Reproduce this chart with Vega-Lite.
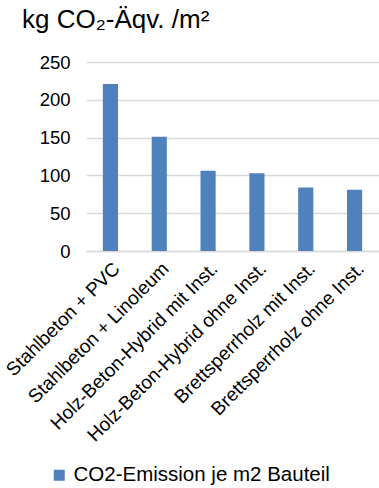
{
  "$schema": "https://vega.github.io/schema/vega-lite/v6.json",
  "width": 293,
  "height": 189,
  "autosize": {"type": "none"},
  "padding": {"left": 86, "top": 62, "right": 0, "bottom": 237},
  "background": "white",
  "config": {"font": "Liberation Sans", "view": {"stroke": null}},
  "title": {
    "text": "kg CO₂-Äqv. /m²",
    "anchor": "start",
    "frame": "group",
    "dx": -64,
    "offset": 20,
    "fontSize": 26,
    "fontWeight": "normal",
    "color": "#000000",
    "font": "Liberation Sans"
  },
  "data": {
    "values": [
      {"kategorie": "Stahlbeton + PVC", "wert": 221, "serie": "CO2-Emission je m2 Bauteil"},
      {"kategorie": "Stahlbeton + Linoleum", "wert": 151, "serie": "CO2-Emission je m2 Bauteil"},
      {"kategorie": "Holz-Beton-Hybrid mit Inst.", "wert": 106, "serie": "CO2-Emission je m2 Bauteil"},
      {"kategorie": "Holz-Beton-Hybrid ohne Inst.", "wert": 103, "serie": "CO2-Emission je m2 Bauteil"},
      {"kategorie": "Brettsperrholz mit Inst.", "wert": 84, "serie": "CO2-Emission je m2 Bauteil"},
      {"kategorie": "Brettsperrholz ohne Inst.", "wert": 81, "serie": "CO2-Emission je m2 Bauteil"}
    ]
  },
  "mark": {"type": "bar"},
  "encoding": {
    "x": {
      "field": "kategorie",
      "type": "nominal",
      "sort": null,
      "scale": {"paddingInner": 0.69, "paddingOuter": 0.345},
      "axis": {
        "title": null,
        "labelAngle": -45,
        "labelFontSize": 19,
        "labelColor": "#000000",
        "labelPadding": 8,
        "ticks": false,
        "domainColor": "#d9d9d9",
        "domainWidth": 1.5,
        "labelLimit": 400
      }
    },
    "y": {
      "field": "wert",
      "type": "quantitative",
      "scale": {"domain": [0, 250]},
      "axis": {
        "title": null,
        "values": [0, 50, 100, 150, 200, 250],
        "labelFontSize": 18.5,
        "labelColor": "#000000",
        "labelPadding": 16,
        "ticks": false,
        "domain": false,
        "gridColor": "#d9d9d9",
        "gridWidth": 1.5
      }
    },
    "color": {
      "field": "serie",
      "type": "nominal",
      "scale": {"range": ["#4f81bd"]},
      "legend": {
        "title": null,
        "orient": "none",
        "legendX": -37,
        "legendY": 403,
        "symbolType": "square",
        "symbolSize": 121,
        "symbolStrokeWidth": 0,
        "labelFontSize": 20.5,
        "labelColor": "#000000",
        "labelOffset": 4,
        "labelLimit": 400
      }
    }
  }
}
